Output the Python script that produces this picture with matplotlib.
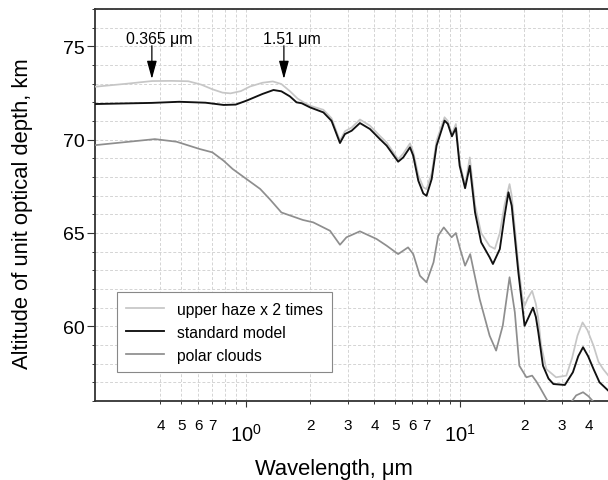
import matplotlib
matplotlib.use("Agg")
import matplotlib.pyplot as plt
from matplotlib.ticker import FixedLocator, FixedFormatter, MultipleLocator

plt.rcParams['font.family'] = ['Liberation Sans', 'DejaVu Sans']
plt.rcParams['mathtext.default'] = 'regular'

# ---- data ----
haze_wl = [0.2, 0.28, 0.365, 0.45, 0.54, 0.62, 0.7, 0.78, 0.85, 0.95, 1.05, 1.2, 1.34, 1.47,
           1.61, 1.75, 1.9, 2.0, 2.31, 2.52, 2.76, 2.91, 3.13, 3.42, 3.81, 4.24, 4.56, 5.16,
           5.45, 5.86, 6.07, 6.41, 6.76, 7.0, 7.4, 7.8, 8.5, 8.8, 9.2, 9.6, 10.0, 10.6, 11.15,
           11.8, 12.6, 13.8, 14.6, 15.4, 16.2, 17.1, 17.5, 18.2, 18.8, 19.6, 20.1, 20.8, 21.8,
           22.7, 23.3, 24.0, 25.4, 28.2, 31.5, 33.5, 35.5, 37.5, 39.5, 42.2, 44.5, 46.8, 49.5]
haze_alt = [72.84, 73.0, 73.14, 73.15, 73.13, 72.95, 72.7, 72.52, 72.48, 72.6, 72.85, 73.05, 73.12, 72.98,
            72.6, 72.2, 71.95, 71.82, 71.6, 71.15, 69.95, 70.45, 70.65, 71.08, 70.75, 70.2, 69.85, 68.95,
            69.25, 69.8, 69.35, 68.1, 67.45, 67.35, 68.2, 69.95, 71.2, 71.0, 70.3, 70.84, 68.8, 67.55, 69.05,
            66.5, 65.0, 64.3, 64.15, 65.0, 66.5, 67.62, 67.0, 65.0, 63.3, 61.6, 61.1, 61.5, 61.9,
            61.2, 60.4, 59.0, 57.71, 57.27, 57.36, 58.3, 59.5, 60.21, 59.8, 58.96, 58.1, 57.71, 57.36]

std_wl = [0.2, 0.365, 0.49, 0.65, 0.79, 0.9, 1.01, 1.07, 1.2, 1.35, 1.47, 1.61, 1.73, 1.83, 2.0,
          2.31, 2.52, 2.76, 2.91, 3.13, 3.42, 3.81, 4.24, 4.56, 5.16, 5.45, 5.86, 6.07, 6.41,
          6.76, 7.0, 7.4, 7.8, 8.5, 8.8, 9.2, 9.6, 10.0, 10.6, 11.15, 11.8, 12.6, 13.8, 14.3,
          15.4, 16.2, 16.9, 17.5, 18.8, 20.1, 20.8, 22.0, 22.7, 23.3, 24.5, 26.0, 27.4, 31.0,
          33.8, 35.8, 37.7, 39.8, 42.2, 45.0, 49.5]
std_alt = [71.91, 71.97, 72.03, 71.98, 71.86, 71.88, 72.09, 72.21, 72.45, 72.66, 72.59, 72.32, 72.0, 71.95, 71.73,
           71.46, 71.01, 69.82, 70.3, 70.48, 70.89, 70.57, 70.03, 69.68, 68.82, 69.05, 69.59, 69.14, 67.8,
           67.12, 66.99, 67.89, 69.68, 71.02, 70.85, 70.18, 70.62, 68.6, 67.4, 68.6, 66.1, 64.5, 63.7, 63.34,
           64.14, 65.9, 67.18, 66.46, 62.89, 60.03, 60.39, 61.0, 60.5, 59.68, 57.89, 57.2, 56.91, 56.86,
           57.54, 58.4, 58.88, 58.4, 57.71, 57.0, 56.55]

polar_wl = [0.2, 0.377, 0.476, 0.61, 0.7, 0.79, 0.87, 1.01, 1.17, 1.3, 1.47, 1.85, 2.07, 2.48, 2.76,
            2.96, 3.42, 4.09, 4.56, 5.16, 5.74, 6.07, 6.52, 7.0, 7.55, 7.94, 8.43, 9.17, 9.6,
            10.05, 10.6, 11.2, 12.4, 13.8, 14.8, 15.9, 17.1, 18.1, 19.0, 20.5, 21.8, 22.8, 23.7,
            25.9, 29.0, 31.0, 33.0, 35.0, 37.7, 40.0, 42.2, 45.0, 49.5]
polar_alt = [69.71, 70.03, 69.89, 69.5, 69.32, 68.87, 68.43, 67.89, 67.36, 66.8, 66.1, 65.7, 65.57, 65.12, 64.37,
             64.77, 65.09, 64.68, 64.32, 63.87, 64.23, 63.87, 62.71, 62.36, 63.43, 64.86, 65.3, 64.77, 65.0,
             64.14, 63.25, 63.87, 61.46, 59.5, 58.7, 60.04, 62.63, 60.75, 57.89, 57.27, 57.36, 57.05, 56.73,
             55.95, 55.4, 55.5, 55.9, 56.3, 56.47, 56.25, 55.95, 55.6, 55.3]

series_labels = ["upper haze x 2 times", "standard model", "polar clouds"]
marked_wl = [0.365, 1.51]
marked_text = ["0.365 \u03bcm", "1.51 \u03bcm"]

major_x = [1, 10]
major_x_labels = ["$10^{0}$", "$10^{1}$"]
minor_x = [0.4, 0.5, 0.6, 0.7, 0.8, 0.9, 2, 3, 4, 5, 6, 7, 8, 9, 20, 30, 40]
minor_x_labels = ["4", "5", "6", "7", "", "", "2", "3", "4", "5", "6", "7", "", "", "2", "3", "4"]
major_y = [60, 65, 70, 75]

# ---- figure ----
fig = plt.figure(figsize=(6.08, 4.81), dpi=100)
ax = fig.add_axes([95 / 608, 1 - 402 / 481, 1 - 95 / 608, (402 - 10) / 481])

ax.set_xscale('log')
ax.set_xlim(0.198, 49.3)
ax.set_ylim(56.0, 77.0)

ax.plot(polar_wl, polar_alt, color='#8e8e8e', lw=1.25, label=series_labels[2], zorder=3)
ax.plot(haze_wl, haze_alt, color='#c6c6c6', lw=1.25, label=series_labels[0], zorder=4)
ax.plot(std_wl, std_alt, color='#111111', lw=1.35, label=series_labels[1], zorder=5)

ax.xaxis.set_major_locator(FixedLocator(major_x))
ax.xaxis.set_major_formatter(FixedFormatter(major_x_labels))
ax.xaxis.set_minor_locator(FixedLocator(minor_x))
ax.xaxis.set_minor_formatter(FixedFormatter(minor_x_labels))
ax.yaxis.set_major_locator(FixedLocator(major_y))
ax.yaxis.set_minor_locator(MultipleLocator(1))

ax.grid(True, which='both', linestyle=(0, (3, 2)), color='#d4d4d4', linewidth=0.7, zorder=0)
ax.set_axisbelow(True)

for side in ['left', 'bottom', 'top']:
    ax.spines[side].set_color('#333333')
    ax.spines[side].set_linewidth(1.3)
ax.spines['right'].set_visible(False)

ax.tick_params(axis='x', which='major', direction='out', length=4.5, width=0.8,
               color='#333333', labelsize=14.5, pad=11.5)
ax.tick_params(axis='x', which='minor', direction='out', length=2.5, width=0.7,
               color='#333333', labelsize=11, pad=10)
ax.tick_params(axis='y', which='major', direction='out', length=6, width=0.8,
               color='#333333', labelsize=14, pad=1.5)
ax.tick_params(axis='y', which='minor', direction='out', length=2.5, width=0.7,
               color='#333333')

# annotations
for wl, txt in zip(marked_wl, marked_text):
    ax.annotate('', xy=(wl, 73.25), xytext=(wl, 75.03),
                arrowprops=dict(arrowstyle='-|>,head_length=1.1,head_width=0.3',
                                color='black', lw=0.9, shrinkA=0, shrinkB=0,
                                mutation_scale=10))
    ax.annotate(txt, xy=(wl, 75.03), xytext=(5.4, 2), textcoords='offset points',
                ha='center', va='baseline', fontsize=11.4)

handles, labels = ax.get_legend_handles_labels()
order = [1, 2, 0]
leg = ax.legend([handles[i] for i in order], [labels[i] for i in order],
                loc='lower left', bbox_to_anchor=(117 / 608, 1 - 373 / 481),
                bbox_transform=fig.transFigure, borderaxespad=0,
                fontsize=11.3, frameon=True, fancybox=False, framealpha=1,
                handlelength=2.4, handletextpad=0.8, borderpad=0.6, labelspacing=0.5)
leg.get_frame().set_edgecolor('#888888')
leg.get_frame().set_linewidth(0.8)

fig.text(334 / 608, 1 - 475 / 481, "Wavelength, \u03bcm", ha='center', va='baseline', fontsize=15.8)
fig.text(22.5 / 608, 1 - 213.5 / 481, "Altitude of unit optical depth, km", rotation=90,
         ha='center', va='center', fontsize=15.8)

fig.savefig('out.png', dpi=100)
